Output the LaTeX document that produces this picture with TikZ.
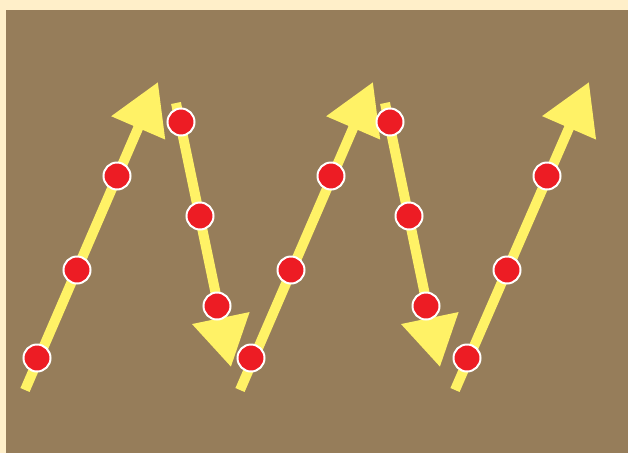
\documentclass[tikz,border=0pt]{standalone}
\usetikzlibrary{arrows.meta}
\definecolor{cream}{HTML}{FFEFC9}
\definecolor{mud}{HTML}{967D5A}
\definecolor{lemon}{HTML}{FFF266}
\definecolor{dotred}{HTML}{ED1C24}
\tikzset{
  zig/.style={line width=10pt, color=lemon, -{Triangle[length=50pt,width=56pt]}},
  dot/.style={circle, fill=dotred, draw=white, line width=2pt, minimum size=27pt, inner sep=0pt}
}
\begin{document}
\begin{tikzpicture}[x=1pt,y=-1pt]
    % background
    \fill[cream] (0,0) rectangle (628,453);
    \fill[mud] (6,10) rectangle (628,453);
    % ends of the arrows
    \coordinate (s1) at (25,390);  \coordinate (e1) at (158,82);
    \coordinate (s2) at (176,103); \coordinate (e2) at (231,367);
    \coordinate (s3) at (240,390); \coordinate (e3) at (373,82);
    \coordinate (s4) at (385,103); \coordinate (e4) at (440,367);
    \coordinate (s5) at (455,390); \coordinate (e5) at (589,82);
    \draw[zig] (s1) -- (e1);
    \draw[zig] (s2) -- (e2);
    \draw[zig] (s3) -- (e3);
    \draw[zig] (s4) -- (e4);
    \draw[zig] (s5) -- (e5);
    % dots
    \node[dot] (d11) at (37,358) {};
    \node[dot] (d12) at (77,270) {};
    \node[dot] (d13) at (117,176) {};
    \node[dot] (d21) at (181,122) {};
    \node[dot] (d22) at (200,216) {};
    \node[dot] (d23) at (217,306) {};
    \node[dot] (d31) at (251,358) {};
    \node[dot] (d32) at (291,270) {};
    \node[dot] (d33) at (331,176) {};
    \node[dot] (d41) at (390,122) {};
    \node[dot] (d42) at (409,216) {};
    \node[dot] (d43) at (426,306) {};
    \node[dot] (d51) at (467,358) {};
    \node[dot] (d52) at (507,270) {};
    \node[dot] (d53) at (547,176) {};
\end{tikzpicture}
\end{document}
